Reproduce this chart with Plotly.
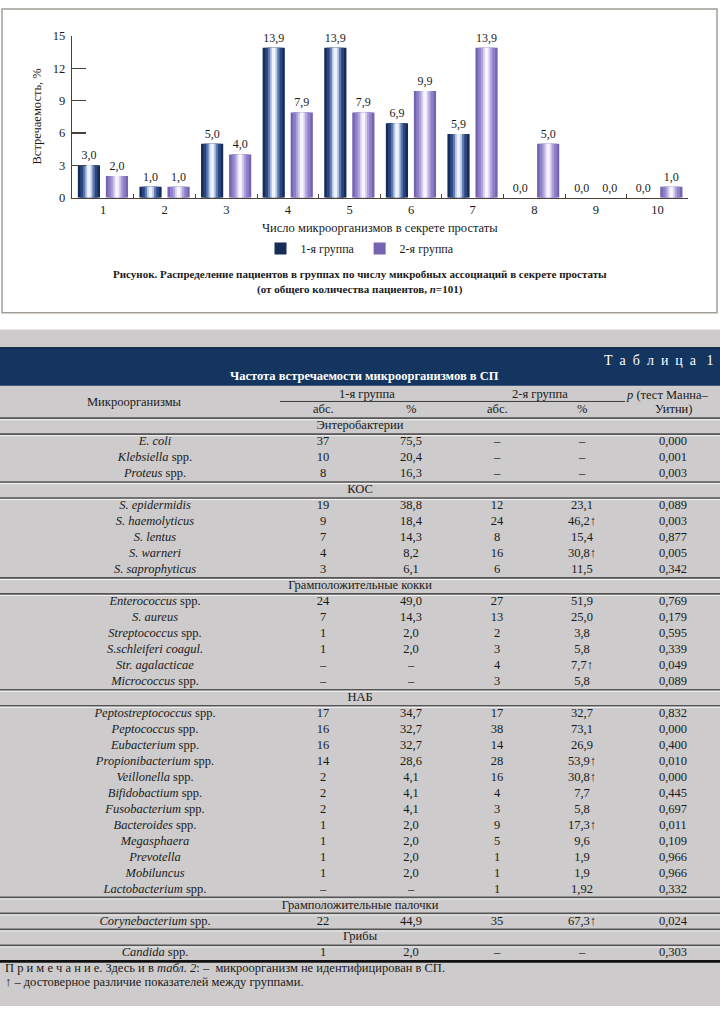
import plotly.graph_objects as go

W, H = 720, 1013

# ---------------- chart data ----------------
categories = ["1", "2", "3", "4", "5", "6", "7", "8", "9", "10"]
group1_pct = [3.0, 1.0, 5.0, 13.9, 13.9, 6.9, 5.9, 0.0, 0.0, 0.0]
group2_pct = [2.0, 1.0, 4.0, 7.9, 7.9, 9.9, 13.9, 5.0, 0.0, 1.0]
series_names = ["1-я группа", "2-я группа"]
y_ticks = [0, 3, 6, 9, 12, 15]

# ---------------- table data ----------------
section_titles = ["Энтеробактерии", "КОС", "Грамположительные кокки", "НАБ",
                  "Грамположительные палочки", "Грибы"]
org_section = [0, 0, 0,
               1, 1, 1, 1, 1,
               2, 2, 2, 2, 2, 2,
               3, 3, 3, 3, 3, 3, 3, 3, 3, 3, 3, 3,
               4,
               5]
org_names = ["<i>E. coli</i>", "<i>Klebsiella</i> spp.", "<i>Proteus</i> spp.",
             "<i>S. epidermidis</i>", "<i>S. haemolyticus</i>", "<i>S. lentus</i>",
             "<i>S. warneri</i>", "<i>S. saprophyticus</i>",
             "<i>Enterococcus</i> spp.", "<i>S. aureus</i>", "<i>Streptococcus</i> spp.",
             "<i>S.schleiferi coagul.</i>", "<i>Str. agalacticae</i>", "<i>Micrococcus</i> spp.",
             "<i>Peptostreptococcus</i> spp.", "<i>Peptococcus</i> spp.", "<i>Eubacterium</i> spp.",
             "<i>Propionibacterium</i> spp.", "<i>Veillonella</i> spp.", "<i>Bifidobactium</i> spp.",
             "<i>Fusobacterium</i> spp.", "<i>Bacteroides</i> spp.", "<i>Megasphaera</i>",
             "<i>Prevotella</i>", "<i>Mobiluncus</i>", "<i>Lactobacterium</i> spp.",
             "<i>Corynebacterium</i> spp.",
             "<i>Candida</i> spp."]
abs_g1 = ["37", "10", "8",
          "19", "9", "7", "4", "3",
          "24", "7", "1", "1", "–", "–",
          "17", "16", "16", "14", "2", "2", "2", "1", "1", "1", "1", "–",
          "22",
          "1"]
pct_g1 = ["75,5", "20,4", "16,3",
          "38,8", "18,4", "14,3", "8,2", "6,1",
          "49,0", "14,3", "2,0", "2,0", "–", "–",
          "34,7", "32,7", "32,7", "28,6", "4,1", "4,1", "4,1", "2,0", "2,0", "2,0", "2,0", "–",
          "44,9",
          "2,0"]
abs_g2 = ["–", "–", "–",
          "12", "24", "8", "16", "6",
          "27", "13", "2", "3", "4", "3",
          "17", "38", "14", "28", "16", "4", "3", "9", "5", "1", "1", "1",
          "35",
          "–"]
pct_g2 = ["–", "–", "–",
          "23,1", "46,2↑", "15,4", "30,8↑", "11,5",
          "51,9", "25,0", "3,8", "5,8", "7,7↑", "5,8",
          "32,7", "73,1", "26,9", "53,9↑", "30,8↑", "7,7", "5,8", "17,3↑", "9,6", "1,9", "1,9", "1,92",
          "67,3↑",
          "–"]
p_values = ["0,000", "0,001", "0,003",
            "0,089", "0,003", "0,877", "0,005", "0,342",
            "0,769", "0,179", "0,595", "0,339", "0,049", "0,089",
            "0,832", "0,000", "0,400", "0,010", "0,000", "0,445", "0,697", "0,011", "0,109",
            "0,966", "0,966", "0,332",
            "0,024",
            "0,303"]

FONT = "Liberation Serif"
INK = "#1a1a1a"


def py(px):
    return 1 - px / H


def pxx(px):
    return px / W


fig = go.Figure()

# ---------------- bars (cylindrical shading via stacked overlay layers) ----------------
BAR_W = 0.36
offsets = [-0.41, 0.045]
palettes = [
    ["#172b57", "#29467f", "#5f7bb2", "#b7c6e6", "#eef2fb"],
    ["#7464b2", "#8f7fc7", "#aea2dc", "#d6cff0", "#f6f4fc"],
]
fracs = [1.0, 0.78, 0.52, 0.32, 0.16]
for vals, name, off, pal in zip([group1_pct, group2_pct], series_names, offsets, palettes):
    for k, (fr, col) in enumerate(zip(fracs, pal)):
        w = BAR_W * fr
        o = off + (BAR_W - w) / 2
        kw = {}
        if k == 0:
            kw = dict(texttemplate="%{y:.1f}", textposition="outside",
                      textfont=dict(family=FONT, size=12, color=INK))
        fig.add_trace(go.Bar(
            x=categories, y=vals, name=name, legendgroup=name,
            showlegend=(k == 0), width=[w] * len(categories), offset=o,
            marker=dict(color=col, line=dict(width=0)),
            cliponaxis=False, hoverinfo="skip", xaxis="x", yaxis="y", **kw))

# ---------------- table text (rows via y2 index scale) ----------------
row_idx = []
sec_rows = []
r = 0
prev = None
for s in org_section:
    if s != prev:
        sec_rows.append(r)
        r += 1
        prev = s
    row_idx.append(r)
    r += 1
n_rows = r

ROW0_PX, ROW_H = 425.0, 16.2
y2_range = [(H - ROW0_PX) / ROW_H, -ROW0_PX / ROW_H]

col_x = {"name": 155, "a1": 323, "p1": 411, "a2": 497, "p2": 582, "p": 673}
TS = 12.5
tfont = dict(family=FONT, size=TS, color=INK)
for key, vals in [("name", org_names), ("a1", abs_g1), ("p1", pct_g1),
                  ("a2", abs_g2), ("p2", pct_g2), ("p", p_values)]:
    fig.add_trace(go.Scatter(
        x=[col_x[key]] * len(vals), y=row_idx, text=vals, mode="text",
        textposition="middle center", textfont=tfont, showlegend=False,
        hoverinfo="skip", xaxis="x2", yaxis="y2"))
fig.add_trace(go.Scatter(
    x=[360] * len(sec_rows), y=sec_rows, text=section_titles, mode="text",
    textposition="middle center", textfont=tfont, showlegend=False,
    hoverinfo="skip", xaxis="x2", yaxis="y2"))

shapes = []
# chart panel
shapes.append(dict(type="rect", xref="paper", yref="paper", x0=pxx(2), x1=pxx(717),
                   y0=py(310), y1=py(2), line=dict(color="#a39d97", width=1.5),
                   fillcolor="white", layer="below"))
# table panel
shapes.append(dict(type="rect", xref="paper", yref="paper", x0=0, x1=1,
                   y0=0, y1=py(327), line=dict(width=0), fillcolor="#cdcbcb", layer="below"))
shapes.append(dict(type="rect", xref="paper", yref="paper", x0=0, x1=1,
                   y0=py(384), y1=py(345), line=dict(width=0), fillcolor="#14355f", layer="below"))
shapes.append(dict(type="line", xref="paper", yref="paper", x0=0, x1=1,
                   y0=py(345.5), y1=py(345.5), line=dict(color="#0b2142", width=1.2)))
# group underline in header
shapes.append(dict(type="line", xref="paper", yref="paper", x0=pxx(280), x1=pxx(625),
                   y0=py(400), y1=py(400), line=dict(color="#3a3a3a", width=1)))
# rule lines around section rows
rules = set()
for sr in sec_rows:
    rules.add(sr - 0.5)
    rules.add(sr + 0.5)
for yy in sorted(rules):
    shapes.append(dict(type="line", xref="x2", yref="y2", x0=0, x1=720, y0=yy, y1=yy,
                       line=dict(color="#555555", width=1.6)))
    shapes.append(dict(type="line", xref="x2", yref="y2", x0=0, x1=720,
                       y0=yy + 0.1, y1=yy + 0.1, line=dict(color="#f4f4f4", width=1)))
shapes.append(dict(type="line", xref="x2", yref="y2", x0=0, x1=720,
                   y0=n_rows - 0.5, y1=n_rows - 0.5, line=dict(color="#111111", width=2.6)))

ann = []


def A(text, x, y, size=TS, color=INK, xanchor="center", **kw):
    ann.append(dict(text=text, x=pxx(x), y=py(y), xref="paper", yref="paper",
                    xanchor=xanchor, yanchor="middle", showarrow=False,
                    font=dict(family=FONT, size=size, color=color), **kw))


NB = "\u00a0"
# chart annotations
A("Встречаемость, %", 37, 111, size=12.5, textangle=-90)
A("Число микроорганизмов в секрете простаты", 380, 224, size=12.5)
A("<b>Рисунок. Распределение пациентов в группах по числу микробных ассоциаций в секрете простаты</b>",
  360, 271, size=11)
A("<b>(от общего количества пациентов, <i>n</i>=101)</b>", 360, 286, size=11)
# table header
A((NB + " ").join("Таблица") + NB * 3 + "1", 716, 358, size=14, color="white", xanchor="right")
A("<b>Частота встречаемости микроорганизмов в СП</b>", 364, 374, size=12.5, color="white")
A("Микроорганизмы", 134, 401)
A("1-я группа", 367, 392)
A("2-я группа", 540, 392)
A("абс.", col_x["a1"], 408)
A("%", col_x["p1"], 408)
A("абс.", col_x["a2"], 408)
A("%", col_x["p2"], 408)
A("<i>p</i> (тест Манна–", 667, 393)
A("Уитни)", 673, 408)
# note
A("П р и м е ч а н и е. Здесь и в <i>табл. 2</i>: –  микроорганизм не идентифицирован в СП.",
  3, 974, xanchor="left")
A("↑ – достоверное различие показателей между группами.", 3, 989, xanchor="left")

axis_col = "#4a4038"
fig.update_layout(
    width=W, height=H, margin=dict(l=0, r=0, t=0, b=0),
    paper_bgcolor="white", plot_bgcolor="rgba(0,0,0,0)",
    barmode="overlay", separators=", ",
    font=dict(family=FONT, color=INK),
    xaxis=dict(domain=[pxx(72.3), pxx(688.3)], type="category", range=[-0.5, 9.5],
               showline=True, linecolor=axis_col, linewidth=1.5,
               ticks="inside", tickson="boundaries", ticklen=4, tickcolor=axis_col,
               tickfont=dict(family=FONT, size=12.5, color=INK),
               showgrid=False, zeroline=False, fixedrange=True),
    yaxis=dict(domain=[py(193.3), py(29.3)], range=[0, 15], tickvals=y_ticks,
               showline=True, linecolor=axis_col, linewidth=1.5,
               ticks="inside", ticklen=14, tickwidth=1.3, tickcolor=axis_col,
               tickfont=dict(family=FONT, size=12.5, color=INK), ticklabelstandoff=3,
               showgrid=False, zeroline=False, fixedrange=True),
    xaxis2=dict(domain=[0, 1], range=[0, W], visible=False, fixedrange=True,
                anchor="y2"),
    yaxis2=dict(domain=[0, 1], range=y2_range, visible=False, fixedrange=True,
                anchor="x2"),
    legend=dict(orientation="h", x=0.5, xanchor="center", y=py(245), yanchor="middle",
                font=dict(family=FONT, size=12, color=INK), bgcolor="rgba(0,0,0,0)",
                itemwidth=30, traceorder="normal"),
    shapes=shapes, annotations=ann,
)

fig.write_html(
    "out.html",
    config={"displayModeBar": False, "staticPlot": True},
    post_script="document.body.style.margin='0';document.body.style.overflow='hidden';",
)
